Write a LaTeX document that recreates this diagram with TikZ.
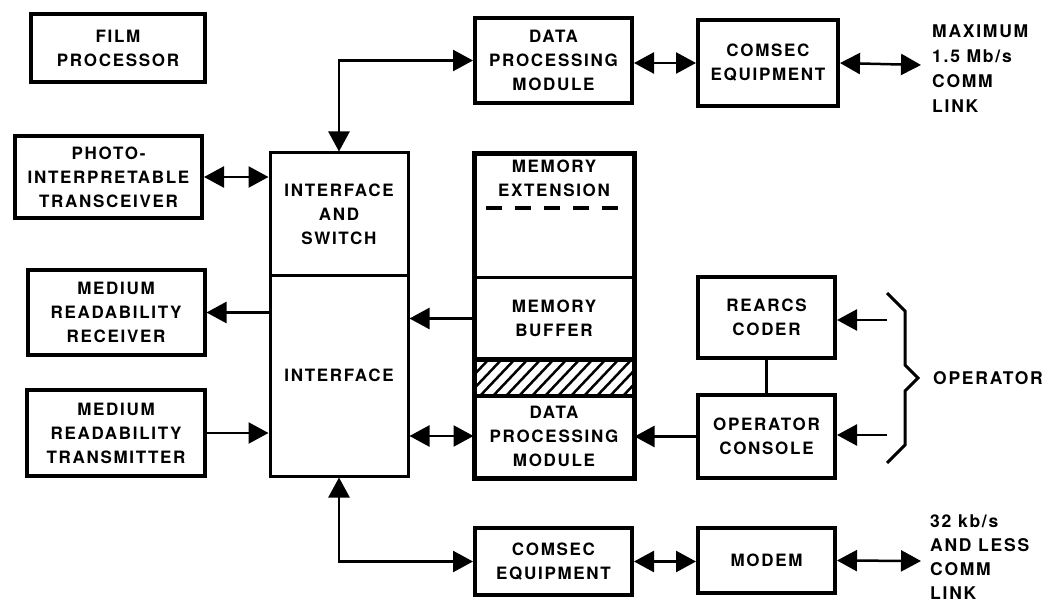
\documentclass[tikz,border=0pt]{standalone}
\usepackage{fontspec}
\setmainfont{TeX Gyre Heros}[LetterSpace=10]
\usetikzlibrary{arrows.meta,calc}

\tikzset{
  box/.style={draw, line width=4pt, rectangle, align=center, inner sep=0pt,
              font=\bfseries\fontsize{17}{24}\selectfont},
  part/.style={draw, line width=3pt, rectangle, align=center, inner sep=0pt,
              font=\bfseries\fontsize{17}{24}\selectfont},
  txt/.style={align=left, inner sep=0pt, font=\bfseries\fontsize{17.5}{25}\selectfont},
  conn/.style={line width=2.5pt, -{Triangle[length=20pt,width=21pt]}},
  biconn/.style={line width=2.5pt, {Triangle[length=20pt,width=21pt]}-{Triangle[length=20pt,width=21pt]}},
  plainline/.style={line width=2.5pt},
}

\begin{document}
\begin{tikzpicture}[x=1pt,y=-1pt]
\useasboundingbox (0,0) rectangle (1045,607);

% left column of terminals
\node[box, minimum width=174pt, minimum height=68pt] (film) at (118,48) {FILM\\PROCESSOR};
\node[box, minimum width=187pt, minimum height=82pt] (photo) at (108.5,177) {PHOTO-\\INTERPRETABLE\\TRANSCEIVER};
\node[box, minimum width=177pt, minimum height=85pt] (mrr) at (116,312.5) {MEDIUM\\READABILITY\\RECEIVER};
\node[box, minimum width=178pt, minimum height=86pt] (mrt) at (116,433) {MEDIUM\\READABILITY\\TRANSMITTER};

% interface column
\node[part, minimum width=138pt, minimum height=122pt] (ifsw) at (339,214) {INTERFACE\\AND\\SWITCH};
\node[part, minimum width=138pt, minimum height=201pt] (iface) at (339,375.5) {INTERFACE};

% processing stack
\node[box, minimum width=157pt, minimum height=85pt] (dpmtop) at (553.5,60.5) {DATA\\PROCESSING\\MODULE};
\node[part, minimum width=158pt, minimum height=122pt] (memext) at (554,216) {};
\node[txt, align=center, anchor=north, font=\bfseries\fontsize{17}{24}\selectfont] (memextlbl) at (554,160) {MEMORY\\EXTENSION};
\node[part, minimum width=158pt, minimum height=83pt] (membuf) at (554,318.5) {MEMORY\\BUFFER};
\node[part, minimum width=158pt, minimum height=35pt] (hatch) at (554,377.5) {};
\node[part, minimum width=158pt, minimum height=82pt] (dpmlow) at (554,436) {DATA\\PROCESSING\\MODULE};
\draw[line width=4pt] (memext.north west) rectangle (dpmlow.south east);

% dashed split inside the memory extension
\coordinate (dashL) at (486,208);
\coordinate (dashR) at (625,208);
\draw[line width=4pt, dash pattern=on 16pt off 13pt] (dashL) -- (dashR);

% hatched band between buffer and lower module
\begin{scope}
  \clip (hatch.north west) rectangle (hatch.south east);
  \foreach \s in {440,453,...,650} {
    \draw[line width=2.5pt] (\s,397) -- (\s+37,358);
  }
\end{scope}
\draw[line width=3pt] (hatch.north west) rectangle (hatch.south east);

% right column
\node[box, minimum width=140pt, minimum height=86pt] (comtop) at (768,63) {COMSEC\\EQUIPMENT};
\node[box, minimum width=137pt, minimum height=81pt] (rearcs) at (766.5,317.5) {REARCS\\CODER};
\node[box, minimum width=137pt, minimum height=83pt] (opcon) at (766.5,436.5) {OPERATOR\\CONSOLE};
\node[box, minimum width=157pt, minimum height=67pt] (combot) at (553.5,561.5) {COMSEC\\EQUIPMENT};
\node[box, minimum width=137pt, minimum height=65pt] (modem) at (766.5,560.5) {MODEM};

% outside labels
\node[txt, anchor=north west] (hilink) at (932,25) {MAXIMUM\\1.5 Mb/s\\COMM\\LINK};
\node[txt, anchor=north west, font=\bfseries\fontsize{17.5}{24}\selectfont] (lolink) at (930,515) {32 kb/s\\AND LESS\\COMM\\LINK};
\node[txt, anchor=west] (oper) at (933,378) {OPERATOR};

% link end points and operator inputs
\coordinate (hiend) at (921,65);
\coordinate (loend) at (921,561);
\coordinate (opin1) at (887,320);
\coordinate (opin2) at (887,435);

% connectors
\draw[biconn] (photo.east) -- (photo.east -| ifsw.west);
\draw[biconn] (ifsw.north) |- (dpmtop.west);
\draw[biconn] (dpmtop.east |- comtop.west) -- (comtop.west);
\draw[biconn] (comtop.east) -- (hiend);
\draw[conn] (mrr.east -| iface.west) -- (mrr.east);
\draw[conn] (mrt.east) -- (mrt.east -| iface.west);
\draw[conn] (membuf.west) -- (membuf.west -| iface.east);
\draw[biconn] (dpmlow.west -| iface.east) -- (dpmlow.west);
\draw[conn] (opcon.west) -- (opcon.west -| dpmlow.east);
\draw[plainline] (rearcs.south) -- (opcon.north);
\draw[conn] (opin1) -- (opin1 -| rearcs.east);
\draw[conn] (opin2) -- (opin2 -| opcon.east);
\draw[biconn] (iface.south) |- (combot.west);
\draw[biconn] (combot.east) -- (combot.east -| modem.west);
\draw[biconn] (modem.east) -- (loend);

% operator brace
\draw[line width=3pt, line join=miter] (887,293) -- (905,311) -- (905,365) -- (918,378)
  -- (905,391) -- (905,445) -- (887,463);
\end{tikzpicture}
\end{document}
